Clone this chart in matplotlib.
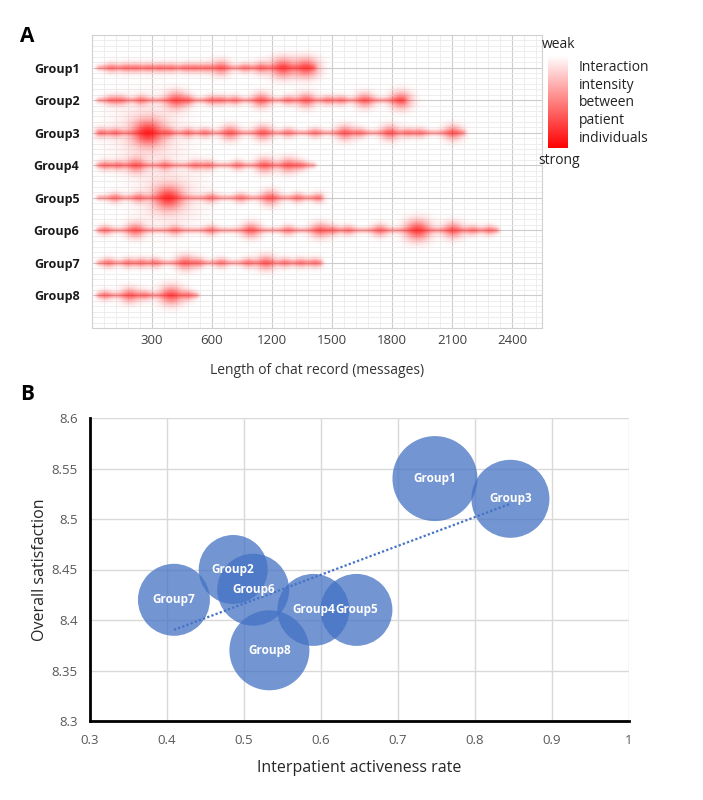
import numpy as np
import matplotlib.pyplot as plt
from matplotlib.ticker import FuncFormatter

plt.rcParams['font.family'] = ['Open Sans', 'DejaVu Sans']

# ---- panel A data: blob positions (tick-index units) and intensity level per group
groups = ['Group1', 'Group2', 'Group3', 'Group4', 'Group5', 'Group6', 'Group7', 'Group8']
x_ticklabels = ['300', '600', '1200', '1500', '1800', '2100', '2400']
line_end = [3.77, 5.27, 6.27, 3.77, 3.88, 6.83, 3.88, 1.82]

g1_blobs = [(0.32, 1), (0.55, 1), (0.73, 1), (0.93, 1), (1.13, 1), (1.32, 1), (1.55, 1),
            (1.72, 1), (1.9, 1), (2.15, 2), (2.55, 1), (2.82, 1.5), (3.18, 3), (3.57, 3)]
g2_blobs = [(0.32, 1), (0.48, 1), (0.82, 1), (1.4, 2.5), (1.6, 1), (1.98, 1), (2.15, 1),
            (2.38, 1), (2.82, 2), (3.27, 1), (3.57, 2), (3.93, 1), (4.15, 1), (4.55, 2), (5.15, 2.5)]
g3_blobs = [(0.15, 1), (0.38, 1), (0.93, 4), (1.27, 1), (1.6, 1), (1.88, 1), (2.3, 2),
            (2.85, 2), (3.27, 1), (3.72, 1), (4.22, 2), (4.47, 1), (4.97, 2), (5.27, 1),
            (5.47, 1), (6.02, 2)]
g4_blobs = [(0.22, 1), (0.43, 1), (0.73, 2), (1.22, 1), (1.72, 1), (1.93, 1), (2.43, 1),
            (2.88, 2), (3.27, 2), (3.48, 1)]
g5_blobs = [(0.38, 1), (0.77, 1), (1.27, 3.5), (1.98, 1), (2.48, 1), (2.97, 2), (3.43, 1), (3.77, 1)]
g6_blobs = [(0.22, 1), (0.72, 2), (1.38, 1), (1.98, 1), (2.65, 2), (3.27, 1), (3.8, 2),
            (4.02, 1), (4.27, 1), (4.8, 1.5), (5.43, 3.2), (6.02, 2.2), (6.35, 1), (6.63, 1)]
g7_blobs = [(0.27, 1), (0.6, 1), (0.82, 1), (1.05, 1), (1.55, 2), (1.77, 1), (2.15, 1),
            (2.6, 1), (2.9, 2), (3.22, 1), (3.48, 1), (3.72, 1)]
g8_blobs = [(0.22, 1), (0.63, 2), (0.88, 1), (1.32, 2.8), (1.6, 1)]
blobs = [g1_blobs, g2_blobs, g3_blobs, g4_blobs, g5_blobs, g6_blobs, g7_blobs, g8_blobs]

# ---- panel B data
activeness = [0.748, 0.486, 0.846, 0.590, 0.646, 0.512, 0.409, 0.533]
satisfaction = [8.54, 8.45, 8.52, 8.41, 8.41, 8.43, 8.42, 8.37]
bubble_size = [42.5, 34.5, 39, 36, 36, 36, 36, 40]

fig = plt.figure(figsize=(7.03, 8.0), dpi=100)

# ================= panel A =================
axa = fig.add_axes([92 / 703, 1 - 328 / 800, 450 / 703, 293 / 800])
px_x, px_y = 60.0, 32.6  # pixels per data unit
xs = np.linspace(0, 7.5, 900)
ys = np.linspace(0, 9, 600)
X, Y = np.meshgrid(xs, ys)
keep = np.ones_like(X)
for row, (end, bl) in enumerate(zip(line_end, blobs), start=1):
    dy = (Y - row) * px_y
    inside = np.clip((X - 0.03) * px_x / 5, 0, 1) * np.clip((end - X) * px_x / 5, 0, 1)
    keep *= 1 - 0.33 * np.exp(-dy ** 2 / (2 * 2.0 ** 2)) * inside
    for pos, lev in bl:
        sx = 3 + 1.9 * lev
        sy = 0.8 * sx
        a = min(0.11 + 0.17 * lev, 0.8)
        dx = (X - pos) * px_x
        keep *= 1 - a * np.exp(-dx ** 2 / (2 * sx ** 2) - dy ** 2 / (2 * sy ** 2))
        if lev >= 3.5:
            keep *= 1 - 0.14 * np.exp(-(dx ** 2 + dy ** 2) / (2 * (2.2 * sx) ** 2))
rgba = np.zeros(X.shape + (4,))
rgba[..., 0] = 1.0
rgba[..., 1] = 0.0
rgba[..., 2] = 0.0
rgba[..., 3] = 1 - keep
axa.imshow(rgba, extent=(0, 7.5, 9, 0), aspect='auto', interpolation='bilinear', zorder=2)

axa.set_xlim(0, 7.5)
axa.set_ylim(9, 0)
axa.set_xticks(range(1, 8))
axa.set_xticklabels(x_ticklabels, fontsize=9.5, color='#404040')
axa.set_xticks(np.arange(0, 7.51, 0.2), minor=True)
axa.set_yticks(range(1, 9))
axa.set_yticklabels(groups, fontsize=9, fontweight='bold', color='#1a1a1a')
axa.set_yticks(np.arange(0, 9.01, 1 / 6), minor=True)
axa.grid(which='major', color='#cccccc', lw=0.8)
axa.grid(which='minor', color='#ebebeb', lw=0.6)
axa.set_axisbelow(True)
axa.tick_params(which='both', length=0)
axa.tick_params(axis='y', pad=9)
axa.tick_params(axis='x', pad=4)
for s in axa.spines.values():
    s.set_color('#d0d0d0')
axa.set_xlabel('Length of chat record (messages)', fontsize=10, color='#333333', labelpad=12)

# colour legend
axc = fig.add_axes([548 / 703, 1 - 148 / 800, 20 / 703, 93 / 800])
grad = np.zeros((200, 1, 4))
grad[..., 0] = 1.0
grad[..., 3] = np.linspace(0, 1, 200)[:, None]
axc.imshow(grad, aspect='auto', extent=(0, 1, 1, 0))
axc.axis('off')
fig.text(559 / 703, 1 - 44 / 800, 'weak', ha='center', va='center', fontsize=10, color='#222222')
fig.text(559 / 703, 1 - 161 / 800, 'strong', ha='center', va='center', fontsize=10, color='#222222')
fig.text(579 / 703, 1 - 60 / 800, 'Interaction\nintensity\nbetween\npatient\nindividuals',
         ha='left', va='top', fontsize=10, color='#222222', linespacing=1.25)

# ================= panel B =================
axb = fig.add_axes([90 / 703, 1 - 721 / 800, 539 / 703, 303 / 800])
sizes = [(1.44 * r) ** 2 for r in bubble_size]
axb.scatter(activeness, satisfaction, s=sizes, color='#4472C4', alpha=0.75,
            edgecolors='none', zorder=3)
k, b = np.polyfit(activeness, satisfaction, 1)
tx = np.array([min(activeness), max(activeness)])
axb.plot(tx, k * tx + b, color='#4472C4', lw=1.6, linestyle=(0, (1, 1)), zorder=4)
for name, x, y in zip(groups, activeness, satisfaction):
    axb.text(x, y, name, color='white', fontsize=8.5, fontweight='bold',
             ha='center', va='center', zorder=5)

axb.set_xlim(0.3, 1.0)
axb.set_ylim(8.3, 8.6)
axb.set_xticks(np.arange(0.3, 1.001, 0.1))
axb.set_yticks(np.arange(8.3, 8.6001, 0.05))
axb.xaxis.set_major_formatter(FuncFormatter(lambda v, p: f'{v:.2f}'.rstrip('0').rstrip('.')))
axb.yaxis.set_major_formatter(FuncFormatter(lambda v, p: f'{v:.2f}'.rstrip('0').rstrip('.')))
axb.tick_params(length=0, labelsize=9.5, labelcolor='#595959')
axb.tick_params(axis='y', pad=9)
axb.tick_params(axis='x', pad=9)
axb.grid(color='#d9d9d9', lw=1)
axb.set_axisbelow(True)
for side in ['top', 'right']:
    axb.spines[side].set_visible(False)
for side in ['left', 'bottom']:
    axb.spines[side].set_color('black')
    axb.spines[side].set_linewidth(2)
axb.set_xlabel('Interpatient activeness rate', fontsize=11.5, color='#262626', labelpad=10)
axb.set_ylabel('Overall satisfaction', fontsize=11.5, color='#262626', labelpad=2)

fig.text(20 / 703, 1 - 37 / 800, 'A', fontsize=15, fontweight='bold', va='center')
fig.text(20 / 703, 1 - 395 / 800, 'B', fontsize=15, fontweight='bold', va='center')

fig.savefig('out.png', dpi=100)
